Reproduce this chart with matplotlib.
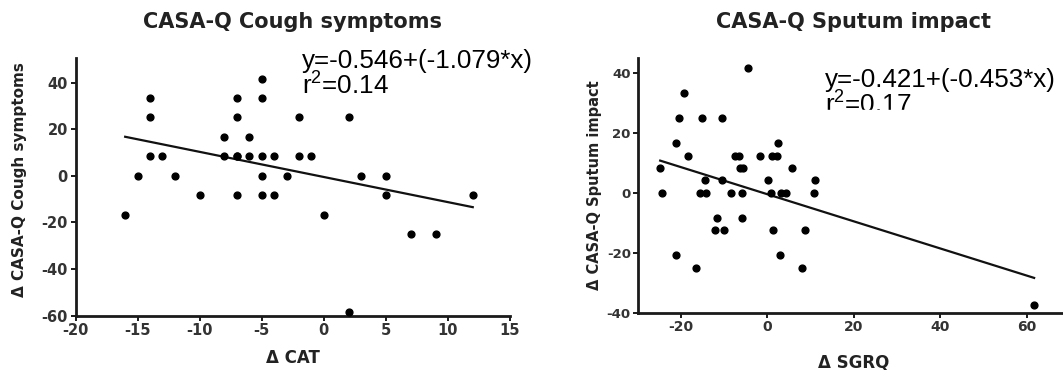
import numpy as np
import matplotlib
matplotlib.use("Agg")
import matplotlib.pyplot as plt
from matplotlib.patches import Rectangle

plt.rcParams["axes.unicode_minus"] = False
plt.rcParams["mathtext.fontset"] = "custom"
plt.rcParams["mathtext.rm"] = "Liberation Sans"
plt.rcParams["mathtext.it"] = "Liberation Sans:italic"

# Delta CAT vs Delta CASA-Q cough symptoms
cat_x = [-16, -15, -14, -14, -14, -13, -12, -10, -8, -8, -7, -7, -7, -7, -7,
         -6, -6, -5, -5, -5, -5, -5, -4, -4, -3, -2, -2, -1, 0, 2, 2, 3,
         5, 5, 7, 9, 12]
cough_y = [-16.7, 0, 33.3, 25, 8.3, 8.3, 0, -8.3, 16.7, 8.3, 33.3, 25, 8.3, 8.3, -8.3,
           16.7, 8.3, 41.7, 33.3, 8.3, 0, -8.3, 8.3, -8.3, 0, 25, 8.3, 8.3, -16.7, 25, -58.3, 0,
           0, -8.3, -25, -25, -8.3]
cough_fit = (-0.546, -1.079)   # intercept, slope
cough_r2 = "0.14"

# Delta SGRQ vs Delta CASA-Q sputum impact
sgrq_x = [-4.6, -19.3, -20.5, -15.1, -10.6, -21.2, -18.3, -24.8, -24.4, -14.4,
          -15.5, -14.1, -10.4, -8.5, -11.6, -12.2, -10.0, -21.2, -16.4,
          -7.6, -6.6, -6.4, -5.6, -5.8, -5.9, -1.8, 0.1, 1.1, 2.3, 2.4,
          0.9, 3.2, 4.2, 1.3, 3.0, 5.8, 10.9, 10.8, 8.6, 7.9, 61.7]
sputum_y = [41.7, 33.3, 25, 25, 25, 16.7, 12.5, 8.3, 0, 4.2,
            0, 0, 4.2, 0, -8.3, -12.5, -12.5, -20.8, -25,
            12.5, 12.5, 8.3, 8.3, 0, -8.3, 12.5, 4.2, 12.5, 12.5, 16.7,
            0, 0, 0, -12.5, -20.8, 8.3, 4.2, 0, -12.5, -25, -37.5]
sputum_fit = (-0.421, -0.453)
sputum_r2 = "0.17"

W, H = 1063, 370


def fx(px):
    return px / W


def fy(py):
    return 1 - py / H


fig = plt.figure(figsize=(W / 100, H / 100), dpi=100)
bold = dict(family="DejaVu Sans", weight="bold", color="#222222")


def style(ax, xticks, yticks, size):
    for s in ["top", "right"]:
        ax.spines[s].set_visible(False)
    for s in ["left", "bottom"]:
        ax.spines[s].set_linewidth(2.0)
        ax.spines[s].set_color("#1a1a1a")
    ax.set_xticks(xticks)
    ax.set_yticks(yticks)
    ax.tick_params(length=3.5, width=1.4, color="#1a1a1a", pad=2,
                   labelsize=size, labelcolor="#333333")
    for lab in ax.get_xticklabels() + ax.get_yticklabels():
        lab.set_fontweight("bold")
        lab.set_family("DejaVu Sans")


# left panel
ax1 = fig.add_axes([fx(75.5), fy(315.5), fx(510) - fx(75.5), fy(58.3) - fy(315.5)])
ax1.scatter(cat_x, cough_y, s=24, color="black", zorder=3, clip_on=False)
xl = np.array([min(cat_x), max(cat_x)])
ax1.plot(xl, cough_fit[0] + cough_fit[1] * xl, color="#111111", lw=1.6)
ax1.set_xlim(-20, 15)
ax1.set_ylim(-60, 50.4)
style(ax1, np.arange(-20, 16, 5), np.arange(-60, 41, 20), 10.5)

# right panel
ax2 = fig.add_axes([fx(637.7), fy(312.7), fx(1070) - fx(637.7), fy(58.3) - fy(312.7)])
ax2.scatter(sgrq_x, sputum_y, s=24, color="black", zorder=3, clip_on=False)
xr = np.array([min(sgrq_x), max(sgrq_x)])
ax2.plot(xr, sputum_fit[0] + sputum_fit[1] * xr, color="#111111", lw=1.6)
ax2.set_xlim(-30, 70)
ax2.set_ylim(-40, 45)
style(ax2, np.arange(-20, 61, 20), np.arange(-40, 41, 20), 10)
ax2.tick_params(axis="y", labelsize=9.5, pad=1.5)

# titles and axis labels
fig.text(fx(292.7), fy(22), "CASA-Q Cough symptoms", ha="center", va="center", fontsize=15, **bold)
fig.text(fx(854), fy(22), "CASA-Q Sputum impact", ha="center", va="center", fontsize=15, **bold)
fig.text(fx(293), fy(358), "\u0394 CAT", ha="center", va="center", fontsize=12, **bold)
fig.text(fx(854), fy(363), "\u0394 SGRQ", ha="center", va="center", fontsize=12, **bold)
fig.text(fx(20), fy(180), "\u0394 CASA-Q Cough symptoms", ha="center", va="center",
         rotation=90, fontsize=11, **bold)
fig.text(fx(595), fy(185), "\u0394 CASA-Q Sputum impact", ha="center", va="center",
         rotation=90, fontsize=10.5, **bold)

# regression equations
eq = dict(family="Liberation Sans", fontsize=18.7, color="black", va="baseline", ha="left")


def eq_text(fit):
    return "y=%.3f+(%.3f*x)" % fit


fig.text(fx(301.7), fy(68.3), eq_text(cough_fit), **eq)
fig.text(fx(301.7), fy(95), "r$^2$=" + cough_r2, **eq)
fig.text(fx(825), fy(86.7), eq_text(sputum_fit), **eq)
fig.text(fx(825), fy(114), "r$^2$=" + sputum_r2, **eq)
# the second line on the right is cut off in the source
fig.patches.append(Rectangle((fx(820), fy(124)), fx(120), fy(110.5) - fy(124),
                             transform=fig.transFigure, color="white", zorder=10))

fig.savefig("out.png", dpi=100)
